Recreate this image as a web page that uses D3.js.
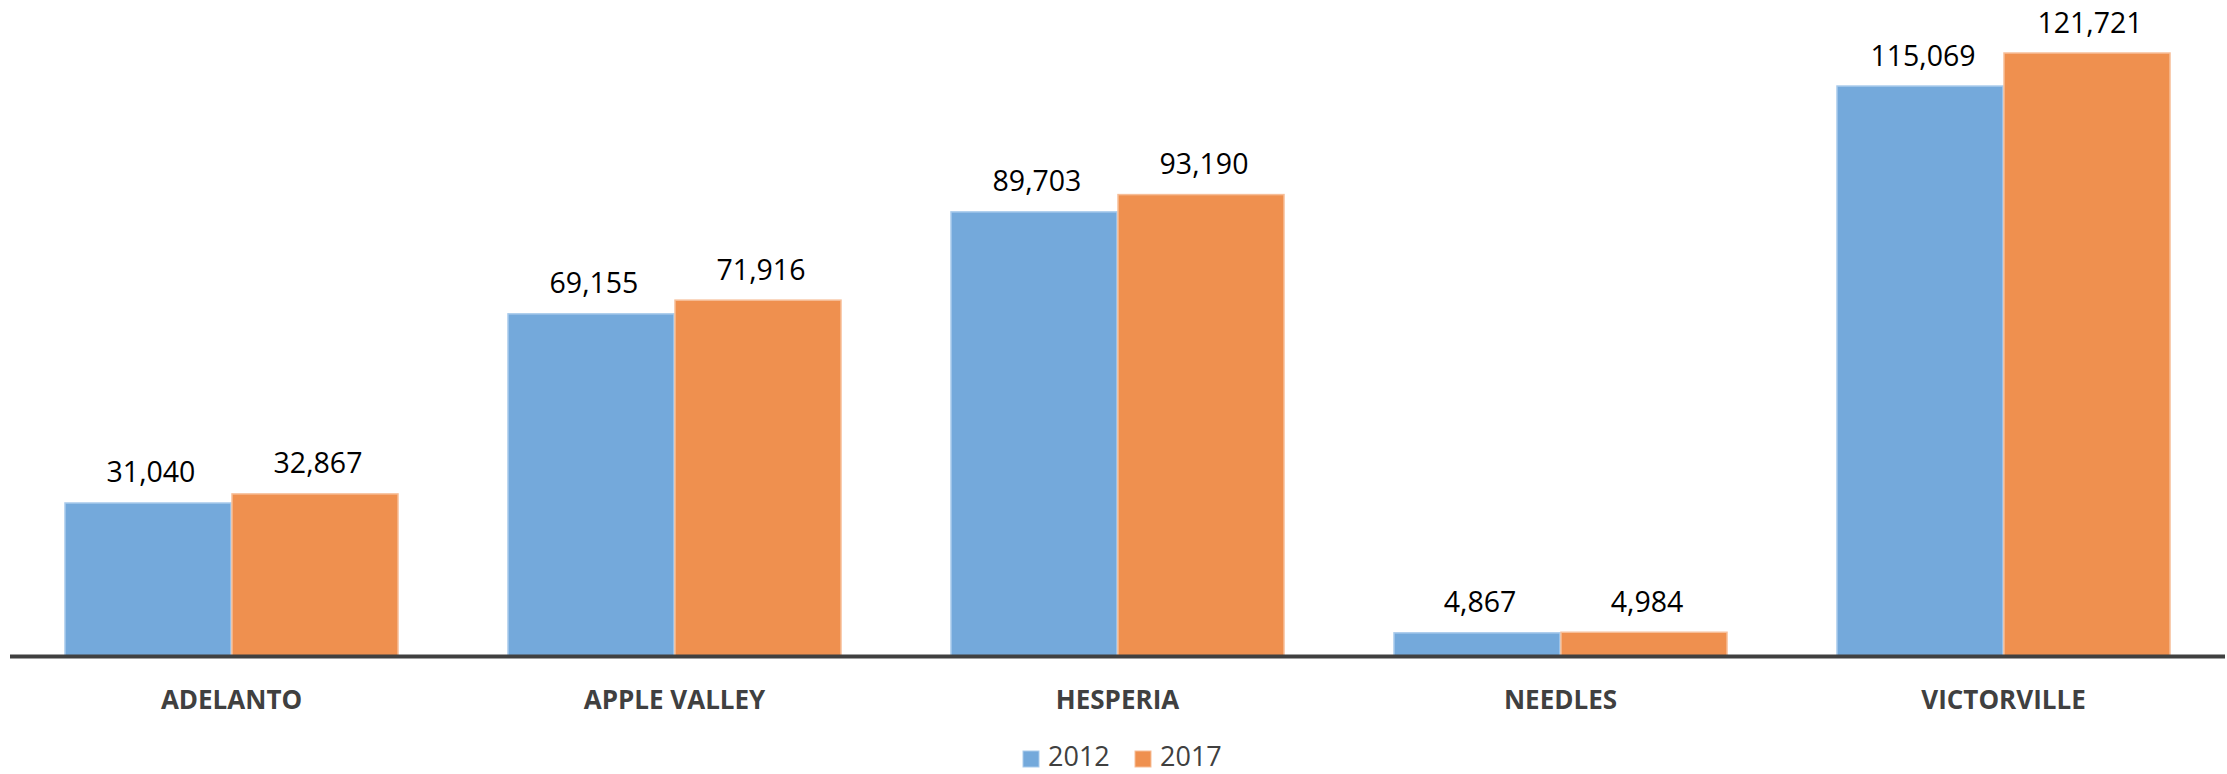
<!DOCTYPE html>
<html><head><meta charset="utf-8">
<script src="https://cdn.jsdelivr.net/npm/d3@7"></script>
<style>
html,body{margin:0;padding:0;background:#fff;}
svg{display:block;}
</style></head>
<body>
<svg id="chart" width="2227" height="774"></svg>
<script>
const categories = ["ADELANTO", "APPLE VALLEY", "HESPERIA", "NEEDLES", "VICTORVILLE"];
const seriesNames = ["2012", "2017"];
const values2012 = [31040, 69155, 89703, 4867, 115069];
const values2017 = [32867, 71916, 93190, 4984, 121721];
const colors = ["#74A9DB", "#EF904F"];
const strokeColors = ["#A9CBEC", "#F7BE98"];

const W = 2227, H = 774;
const plot = {left: 10, right: 2225, top: 11, bottom: 656.5};
const svg = d3.select("#chart");

const x0 = d3.scaleBand().domain(categories).range([plot.left, plot.right]).paddingInner(0.246).paddingOuter(0.123);
const x1 = d3.scaleBand().domain(seriesNames).range([0, x0.bandwidth()]).padding(0);
const y = d3.scaleLinear().domain([0, 130000]).range([plot.bottom, plot.bottom - 130000 * 0.004962]);

const data = categories.map((c, i) => ({cat: c, vals: [values2012[i], values2017[i]]}));
const fmt = d3.format(",");

const groups = svg.append("g").selectAll("g").data(data).join("g")
  .attr("transform", d => `translate(${x0(d.cat)},0)`);

groups.selectAll("rect").data(d => d.vals.map((v, k) => ({v, k, s: seriesNames[k]})))
  .join("rect")
  .attr("x", d => x1(d.s) + 0.5)
  .attr("y", d => y(d.v) + 0.5)
  .attr("width", x1.bandwidth() - 1)
  .attr("height", d => y(0) - y(d.v) - 0.5)
  .attr("fill", d => colors[d.k])
  .attr("stroke", d => strokeColors[d.k])
  .attr("stroke-width", 1.5);

groups.selectAll("text.val").data(d => d.vals.map((v, k) => ({v, k, s: seriesNames[k]})))
  .join("text").attr("class", "val")
  .attr("x", d => x1(d.s) + x1.bandwidth() / 2 + 3)
  .attr("y", d => y(d.v) - 20)
  .attr("text-anchor", "middle")
  .attr("font-family", "Open Sans, sans-serif")
  .attr("font-size", 28.5)
  .attr("fill", "#000")
  .text(d => fmt(d.v));

// x axis
const xAxis = d3.axisBottom(x0).tickSize(0).tickPadding(0);
const ax = svg.append("g").attr("transform", `translate(0,${plot.bottom})`).call(xAxis);
ax.select(".domain").remove();
ax.append("line").attr("x1", plot.left).attr("x2", plot.right).attr("y1", 0).attr("y2", 0)
  .attr("stroke", "#404040").attr("stroke-width", 4);
ax.selectAll(".tick text")
  .attr("dy", null)
  .attr("y", 52)
  .attr("font-family", "Open Sans, sans-serif")
  .attr("font-weight", "bold")
  .attr("font-size", 26)
  .attr("fill", "#404040");

// legend
const legend = svg.append("g");
const legendItems = [{name: seriesNames[0], x: 1023}, {name: seriesNames[1], x: 1135}];
legendItems.forEach((it, k) => {
  legend.append("rect").attr("x", it.x).attr("y", 751).attr("width", 16).attr("height", 16)
    .attr("fill", colors[k]).attr("stroke", strokeColors[k]).attr("stroke-width", 1);
  legend.append("text").attr("x", it.x + 25).attr("y", 766)
    .attr("font-family", "Open Sans, sans-serif").attr("font-size", 27).attr("fill", "#404040")
    .text(it.name);
});
</script>
</body></html>
